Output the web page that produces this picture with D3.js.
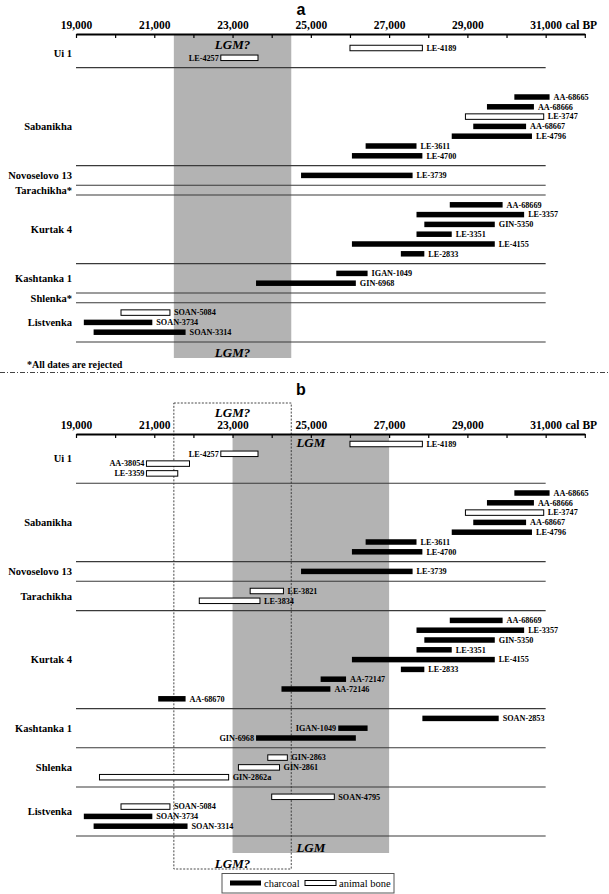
<!DOCTYPE html>
<html>
<head>
<meta charset="utf-8">
<script src="https://cdn.jsdelivr.net/npm/d3@7/dist/d3.min.js"></script>
<style>
  html, body { margin: 0; padding: 0; background: #fff; }
  svg { display: block; }
  text { font-family: "Liberation Serif", "Times New Roman", serif; }
</style>
</head>
<body>
<svg id="chart" width="609" height="894"></svg>
<script>
// ---------------- DATA ----------------
const tickValuesMinor = d3.range(19000, 32001, 1000);
const tickValuesMajor = [19000, 21000, 23000, 25000, 27000, 29000, 31000];
const tickLabels = ["19,000", "21,000", "23,000", "25,000", "27,000", "29,000", "31,000"];
const axisUnit = "cal BP";

// Panel a
const sitesA = ["Ui 1", "Sabanikha", "Novoselovo 13", "Tarachikha*", "Kurtak 4", "Kashtanka 1", "Shlenka*", "Listvenka"];
const siteSepRowA = [2, 12, 14, 15, 22, 25, 26, 30];
const datesA = [
  { lab: "LE-4189", site: "Ui 1", from: 26000, to: 27850, mat: "bone", row: 0, side: "right" },
  { lab: "LE-4257", site: "Ui 1", from: 22700, to: 23650, mat: "bone", row: 1, side: "left" },
  { lab: "AA-68665", site: "Sabanikha", from: 30200, to: 31100, mat: "charcoal", row: 5, side: "right" },
  { lab: "AA-68666", site: "Sabanikha", from: 29500, to: 30700, mat: "charcoal", row: 6, side: "right" },
  { lab: "LE-3747", site: "Sabanikha", from: 28950, to: 30950, mat: "bone", row: 7, side: "right" },
  { lab: "AA-68667", site: "Sabanikha", from: 29150, to: 30500, mat: "charcoal", row: 8, side: "right" },
  { lab: "LE-4796", site: "Sabanikha", from: 28600, to: 30650, mat: "charcoal", row: 9, side: "right" },
  { lab: "LE-3611", site: "Sabanikha", from: 26400, to: 27700, mat: "charcoal", row: 10, side: "right" },
  { lab: "LE-4700", site: "Sabanikha", from: 26050, to: 27850, mat: "charcoal", row: 11, side: "right" },
  { lab: "LE-3739", site: "Novoselovo 13", from: 24750, to: 27600, mat: "charcoal", row: 13, side: "right" },
  { lab: "AA-68669", site: "Kurtak 4", from: 28550, to: 29900, mat: "charcoal", row: 16, side: "right" },
  { lab: "LE-3357", site: "Kurtak 4", from: 27700, to: 30450, mat: "charcoal", row: 17, side: "right" },
  { lab: "GIN-5350", site: "Kurtak 4", from: 27900, to: 29700, mat: "charcoal", row: 18, side: "right" },
  { lab: "LE-3351", site: "Kurtak 4", from: 27700, to: 28600, mat: "charcoal", row: 19, side: "right" },
  { lab: "LE-4155", site: "Kurtak 4", from: 26050, to: 29700, mat: "charcoal", row: 20, side: "right" },
  { lab: "LE-2833", site: "Kurtak 4", from: 27300, to: 27900, mat: "charcoal", row: 21, side: "right" },
  { lab: "IGAN-1049", site: "Kashtanka 1", from: 25650, to: 26450, mat: "charcoal", row: 23, side: "right" },
  { lab: "GIN-6968", site: "Kashtanka 1", from: 23600, to: 26150, mat: "charcoal", row: 24, side: "right" },
  { lab: "SOAN-5084", site: "Listvenka", from: 20150, to: 21400, mat: "bone", row: 27, side: "right" },
  { lab: "SOAN-3734", site: "Listvenka", from: 19200, to: 20950, mat: "charcoal", row: 28, side: "right" },
  { lab: "SOAN-3314", site: "Listvenka", from: 19450, to: 21800, mat: "charcoal", row: 29, side: "right" }
];
const lgmA = [21500, 24500];

// Panel b
const sitesB = ["Ui 1", "Sabanikha", "Novoselovo 13", "Tarachikha", "Kurtak 4", "Kashtanka 1", "Shlenka", "Listvenka"];
const siteSepRowB = [4, 12, 14, 17, 27, 31, 35, 40];
const datesB = [
  { lab: "LE-4189", site: "Ui 1", from: 26000, to: 27850, mat: "bone", row: 0, side: "right" },
  { lab: "LE-4257", site: "Ui 1", from: 22700, to: 23650, mat: "bone", row: 1, side: "left" },
  { lab: "AA-38054", site: "Ui 1", from: 20800, to: 21900, mat: "bone", row: 2, side: "left" },
  { lab: "LE-3359", site: "Ui 1", from: 20800, to: 21600, mat: "bone", row: 3, side: "left" },
  { lab: "AA-68665", site: "Sabanikha", from: 30200, to: 31100, mat: "charcoal", row: 5, side: "right" },
  { lab: "AA-68666", site: "Sabanikha", from: 29500, to: 30700, mat: "charcoal", row: 6, side: "right" },
  { lab: "LE-3747", site: "Sabanikha", from: 28950, to: 30950, mat: "bone", row: 7, side: "right" },
  { lab: "AA-68667", site: "Sabanikha", from: 29150, to: 30500, mat: "charcoal", row: 8, side: "right" },
  { lab: "LE-4796", site: "Sabanikha", from: 28600, to: 30650, mat: "charcoal", row: 9, side: "right" },
  { lab: "LE-3611", site: "Sabanikha", from: 26400, to: 27700, mat: "charcoal", row: 10, side: "right" },
  { lab: "LE-4700", site: "Sabanikha", from: 26050, to: 27850, mat: "charcoal", row: 11, side: "right" },
  { lab: "LE-3739", site: "Novoselovo 13", from: 24750, to: 27600, mat: "charcoal", row: 13, side: "right" },
  { lab: "LE-3821", site: "Tarachikha", from: 23450, to: 24300, mat: "bone", row: 15, side: "right" },
  { lab: "LE-3834", site: "Tarachikha", from: 22150, to: 23700, mat: "bone", row: 16, side: "right" },
  { lab: "AA-68669", site: "Kurtak 4", from: 28550, to: 29900, mat: "charcoal", row: 18, side: "right" },
  { lab: "LE-3357", site: "Kurtak 4", from: 27700, to: 30450, mat: "charcoal", row: 19, side: "right" },
  { lab: "GIN-5350", site: "Kurtak 4", from: 27900, to: 29700, mat: "charcoal", row: 20, side: "right" },
  { lab: "LE-3351", site: "Kurtak 4", from: 27700, to: 28600, mat: "charcoal", row: 21, side: "right" },
  { lab: "LE-4155", site: "Kurtak 4", from: 26050, to: 29700, mat: "charcoal", row: 22, side: "right" },
  { lab: "LE-2833", site: "Kurtak 4", from: 27300, to: 27900, mat: "charcoal", row: 23, side: "right" },
  { lab: "AA-72147", site: "Kurtak 4", from: 25250, to: 25900, mat: "charcoal", row: 24, side: "right" },
  { lab: "AA-72146", site: "Kurtak 4", from: 24250, to: 25500, mat: "charcoal", row: 25, side: "right" },
  { lab: "AA-68670", site: "Kurtak 4", from: 21100, to: 21800, mat: "charcoal", row: 26, side: "right" },
  { lab: "SOAN-2853", site: "Kashtanka 1", from: 27850, to: 29800, mat: "charcoal", row: 28, side: "right" },
  { lab: "IGAN-1049", site: "Kashtanka 1", from: 25700, to: 26450, mat: "charcoal", row: 29, side: "left" },
  { lab: "GIN-6968", site: "Kashtanka 1", from: 23600, to: 26150, mat: "charcoal", row: 30, side: "left" },
  { lab: "GIN-2863", site: "Shlenka", from: 23900, to: 24400, mat: "bone", row: 32, side: "right" },
  { lab: "GIN-2861", site: "Shlenka", from: 23150, to: 24200, mat: "bone", row: 33, side: "right" },
  { lab: "GIN-2862a", site: "Shlenka", from: 19600, to: 22900, mat: "bone", row: 34, side: "right" },
  { lab: "SOAN-4795", site: "Listvenka", from: 24000, to: 25600, mat: "bone", row: 36, side: "right" },
  { lab: "SOAN-5084", site: "Listvenka", from: 20150, to: 21400, mat: "bone", row: 37, side: "right" },
  { lab: "SOAN-3734", site: "Listvenka", from: 19200, to: 20950, mat: "charcoal", row: 38, side: "right" },
  { lab: "SOAN-3314", site: "Listvenka", from: 19450, to: 21850, mat: "charcoal", row: 39, side: "right" }
];
const lgmB = [23000, 27000];
const lgmQueryB = [21500, 24500];
const legendItems = [{ mat: "charcoal", label: "charcoal" }, { mat: "bone", label: "animal bone" }];

// ---------------- DRAW ----------------
const svg = d3.select("#chart");
const x = d3.scaleLinear().domain([19000, 32000]).range([76, 584.8]);
const rowStep = 9.8;
const barH = 5.5;
const gray = "#b3b3b3";

function drawAxis(g, yAxis) {
  g.append("g")
    .attr("transform", `translate(0,${yAxis})`)
    .call(d3.axisBottom(x).tickValues(tickValuesMinor).tickSize(4).tickSizeOuter(0).tickFormat(""))
    .call(a => a.select(".domain").attr("stroke-width", 2))
    .call(a => a.selectAll(".tick line").attr("stroke-width", 1.2));
  const top = g.append("g")
    .attr("transform", `translate(0,${yAxis - 2})`)
    .call(d3.axisTop(x).tickValues(tickValuesMajor).tickSize(0)
      .tickFormat((d, i) => tickLabels[i]));
  top.select(".domain").remove();
  top.selectAll("text")
    .attr("font-family", "Liberation Serif")
    .attr("font-weight", "bold")
    .attr("font-size", 11.5)
    .attr("fill", "#000");
  const last = top.selectAll(".tick text").filter((d) => d === 31000);
  const w = last.node().getComputedTextLength();
  g.append("text")
    .attr("x", x(31000) + w / 2 + 4)
    .attr("y", yAxis - 2 - 3)
    .attr("font-weight", "bold")
    .attr("font-size", 11.5)
    .text(axisUnit);
}

function drawPanel(cfg) {
  const g = svg.append("g");
  const y = d3.scaleLinear().domain([0, 1]).range([cfg.y0, cfg.y0 + rowStep]);

  if (cfg.band) {
    g.append("rect")
      .attr("x", x(cfg.band[0])).attr("width", x(cfg.band[1]) - x(cfg.band[0]))
      .attr("y", cfg.bandTop).attr("height", cfg.bandBottom - cfg.bandTop)
      .attr("fill", gray);
    cfg.bandLabels.forEach(yy => {
      g.append("text").attr("x", x((cfg.band[0] + cfg.band[1]) / 2)).attr("y", yy)
        .attr("text-anchor", "middle").attr("dy", "0.35em")
        .attr("font-style", "italic").attr("font-weight", "bold").attr("font-size", 13)
        .text(cfg.bandText);
    });
  }
  if (cfg.box) {
    g.append("rect")
      .attr("x", x(cfg.box[0])).attr("width", x(cfg.box[1]) - x(cfg.box[0]))
      .attr("y", cfg.boxTop).attr("height", cfg.boxBottom - cfg.boxTop)
      .attr("fill", "none").attr("stroke", "#333").attr("stroke-width", 0.9)
      .attr("stroke-dasharray", "2,1.5");
    cfg.boxLabels.forEach(yy => {
      g.append("text").attr("x", x((cfg.box[0] + cfg.box[1]) / 2)).attr("y", yy)
        .attr("text-anchor", "middle").attr("dy", "0.35em")
        .attr("font-style", "italic").attr("font-weight", "bold").attr("font-size", 13)
        .text(cfg.boxText);
    });
  }

  g.selectAll("line.sep").data(cfg.sepRows).join("line")
    .attr("class", "sep")
    .attr("x1", x(19000)).attr("x2", x(31000))
    .attr("y1", d => y(d)).attr("y2", d => y(d))
    .attr("stroke", "#3a3a3a").attr("stroke-width", 1.1);

  cfg.sites.forEach((s, i) => {
    const ds = cfg.dates.filter(d => d.site === s);
    let yy;
    if (ds.length) yy = d3.mean(ds, d => y(d.row));
    else yy = (y(cfg.sepRows[i - 1]) + y(cfg.sepRows[i])) / 2;
    g.append("text").attr("x", 72).attr("y", yy).attr("dy", "0.35em")
      .attr("text-anchor", "end").attr("font-weight", "bold").attr("font-size", 10.5)
      .text(s);
  });

  g.selectAll("rect.bar").data(cfg.dates).join("rect")
    .attr("class", "bar")
    .attr("x", d => x(d.from)).attr("width", d => x(d.to) - x(d.from))
    .attr("y", d => y(d.row) - barH / 2).attr("height", barH)
    .attr("fill", d => d.mat === "charcoal" ? "#000" : "#fff")
    .attr("stroke", "#000").attr("stroke-width", d => d.mat === "charcoal" ? 0 : 1);

  g.selectAll("text.lab").data(cfg.dates).join("text")
    .attr("class", "lab")
    .attr("x", d => d.side === "right" ? x(d.to) + 4 : x(d.from) - 2)
    .attr("y", d => y(d.row)).attr("dy", "0.35em")
    .attr("text-anchor", d => d.side === "right" ? "start" : "end")
    .attr("font-weight", "bold").attr("font-size", 8.2)
    .text(d => d.lab);

  drawAxis(g, cfg.axisY);

  svg.append("text").attr("x", 301).attr("y", cfg.titleY)
    .attr("text-anchor", "middle")
    .attr("font-weight", "bold").attr("font-size", 16)
    .style("font-family", "'Liberation Sans', Arial, sans-serif")
    .text(cfg.title);
}

drawPanel({
  title: "a", titleY: 14.5, axisY: 34, y0: 48,
  sites: sitesA, sepRows: siteSepRowA, dates: datesA,
  band: lgmA, bandTop: 34, bandBottom: 358, bandLabels: [44, 352], bandText: "LGM?"
});

svg.append("text").attr("x", 27).attr("y", 364).attr("dy", "0.35em")
  .attr("font-weight", "bold").attr("font-size", 10).text("*All dates are rejected");

svg.append("line").attr("x1", 0).attr("x2", 609).attr("y1", 372.5).attr("y2", 372.5)
  .attr("stroke", "#444").attr("stroke-width", 1).attr("stroke-dasharray", "5,2,1,2");

drawPanel({
  title: "b", titleY: 395, axisY: 434, y0: 444,
  sites: sitesB, sepRows: siteSepRowB, dates: datesB,
  band: lgmB, bandTop: 434, bandBottom: 853, bandLabels: [442, 847], bandText: "LGM",
  box: lgmQueryB, boxTop: 403, boxBottom: 869, boxLabels: [412, 863], boxText: "LGM?"
});

const lg = svg.append("g");
lg.append("rect").attr("x", 222).attr("y", 873.5).attr("width", 172).attr("height", 19.5)
  .attr("fill", "#fff").attr("stroke", "#555").attr("stroke-width", 1);
const legX = [230, 305];
legendItems.forEach((it, i) => {
  lg.append("rect").attr("x", legX[i]).attr("y", 880.5).attr("width", 31).attr("height", 5)
    .attr("fill", it.mat === "charcoal" ? "#000" : "#fff")
    .attr("stroke", "#000").attr("stroke-width", it.mat === "charcoal" ? 0 : 1);
  lg.append("text").attr("x", legX[i] + 34).attr("y", 883).attr("dy", "0.35em")
    .attr("font-size", 10.5).text(it.label);
});
</script>
</body>
</html>
